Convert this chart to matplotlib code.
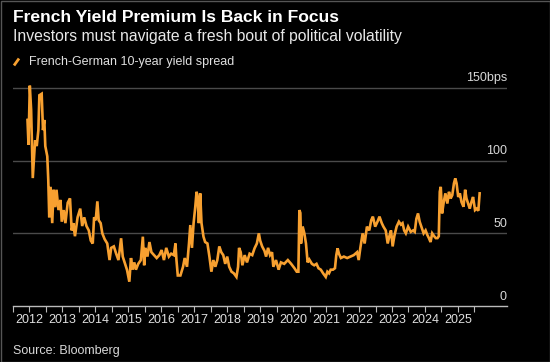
import matplotlib
matplotlib.use("Agg")
import matplotlib.pyplot as plt
from matplotlib.patches import Rectangle
from matplotlib.lines import Line2D
import numpy as np

# Decimal-year dates and spread values (bps)
dates = [2011.94, 2011.97, 2012.01, 2012.05, 2012.10, 2012.17, 2012.22, 2012.27, 2012.30, 2012.37,
         2012.41, 2012.45, 2012.48, 2012.54, 2012.57, 2012.60, 2012.64, 2012.69, 2012.73, 2012.78,
         2012.82, 2012.88, 2012.94, 2012.98, 2013.04, 2013.09, 2013.16, 2013.23, 2013.28, 2013.33,
         2013.38, 2013.46, 2013.54, 2013.60, 2013.66, 2013.73, 2013.80, 2013.86, 2013.92, 2013.96,
         2014.01, 2014.06, 2014.10, 2014.16, 2014.21, 2014.28, 2014.36, 2014.43, 2014.48, 2014.56,
         2014.63, 2014.70, 2014.78, 2014.83, 2014.90, 2014.96, 2015.03, 2015.08, 2015.13, 2015.18,
         2015.23, 2015.30, 2015.38, 2015.44, 2015.48, 2015.52, 2015.58, 2015.64, 2015.70, 2015.78,
         2015.86, 2015.94, 2016.01, 2016.08, 2016.15, 2016.23, 2016.30, 2016.38, 2016.43, 2016.46,
         2016.50, 2016.58, 2016.66, 2016.71, 2016.78, 2016.84, 2016.88, 2016.93, 2016.98, 2017.03,
         2017.07, 2017.10, 2017.14, 2017.18, 2017.22, 2017.28, 2017.33, 2017.40, 2017.46, 2017.52,
         2017.58, 2017.64, 2017.70, 2017.76, 2017.82, 2017.88, 2017.94, 2018.00, 2018.06, 2018.13,
         2018.20, 2018.28, 2018.33, 2018.36, 2018.41, 2018.46, 2018.53, 2018.60, 2018.68, 2018.76,
         2018.83, 2018.90, 2018.96, 2019.00, 2019.06, 2019.13, 2019.18, 2019.24, 2019.30, 2019.36,
         2019.40, 2019.48, 2019.56, 2019.63, 2019.73, 2019.84, 2019.94, 2020.04, 2020.11, 2020.16,
         2020.19, 2020.22, 2020.24, 2020.29, 2020.34, 2020.39, 2020.44, 2020.49, 2020.57, 2020.64,
         2020.71, 2020.77, 2020.84, 2020.91, 2020.99, 2021.04, 2021.09, 2021.14, 2021.21, 2021.27,
         2021.31, 2021.35, 2021.39, 2021.45, 2021.54, 2021.64, 2021.74, 2021.84, 2021.94, 2021.99,
         2022.04, 2022.11, 2022.17, 2022.24, 2022.31, 2022.37, 2022.42, 2022.49, 2022.56, 2022.62,
         2022.69, 2022.74, 2022.81, 2022.87, 2022.92, 2022.97, 2023.02, 2023.07, 2023.14, 2023.21,
         2023.27, 2023.32, 2023.37, 2023.42, 2023.49, 2023.57, 2023.64, 2023.69, 2023.74, 2023.79,
         2023.84, 2023.89, 2023.96, 2024.02, 2024.07, 2024.12, 2024.17, 2024.22, 2024.28, 2024.33,
         2024.38, 2024.42, 2024.45, 2024.48, 2024.52, 2024.57, 2024.62, 2024.68, 2024.73, 2024.78,
         2024.83, 2024.88, 2024.92, 2024.96, 2025.01, 2025.06, 2025.11, 2025.17, 2025.22, 2025.26,
         2025.31, 2025.36, 2025.41, 2025.46, 2025.52, 2025.57, 2025.62, 2025.66]

spread = [128, 111, 151.6, 135, 88, 114, 110, 121, 145, 146,
          121, 128, 110, 103, 86.7, 61, 82, 57, 80, 68,
          80, 66, 73, 58, 66, 57, 71, 74, 52, 57,
          48, 61, 67, 55, 61, 55, 52, 45, 43, 61,
          59, 72, 59, 57, 50, 46, 43, 31.6, 40, 41,
          36, 31.6, 46.6, 34, 29, 24.8, 16.7, 33, 25, 30,
          25, 29, 31.6, 47.7, 28, 40, 34, 44, 37, 35,
          33, 35, 38.5, 31.6, 40, 34, 36, 35, 43, 31.6,
          21, 21, 27, 33, 27, 43, 55.7, 40, 57, 68,
          78.6, 75, 57, 77.5, 57, 47.7, 44, 43, 34, 23.6,
          31.6, 27, 31.6, 41, 37, 35, 29, 34, 27, 23.6,
          22.5, 20, 27, 40, 37, 28, 35, 30, 36, 35,
          39.7, 43, 50, 45, 41, 38, 34, 40, 35, 37,
          27, 31.6, 25, 30, 29, 31.6, 29, 26, 23.6, 23.6,
          66, 64, 43, 54.6, 50, 43, 30, 32, 29, 28,
          29, 26, 25, 22.5, 20, 23.6, 22.5, 25, 25, 26,
          35, 39.7, 36, 33, 34, 33, 34, 35, 37, 31.6,
          40, 50, 43, 54.6, 52, 59, 61.5, 54.6, 58, 61.5,
          57, 54.6, 52, 43, 48, 52, 41, 48, 54.6, 58,
          56, 57, 52, 50, 54.6, 51, 52, 51, 60, 63.7,
          58, 54.6, 50, 52, 49, 46.7, 44, 50, 48, 46.7,
          46.7, 48, 78.6, 82, 63.7, 71.5, 77.5, 70.5, 78.6, 74,
          76.3, 84.4, 87.8, 84.4, 75, 77.5, 71.5, 68.3, 80, 74,
          70.5, 67, 71.5, 75, 66, 67, 65.5, 77.5]

year_ticks = list(range(2012, 2026))
y_ticks = [0, 50, 100, 150]
y_tick_labels = ["0", "50", "100", "150bps"]

title = "French Yield Premium Is Back in Focus"
subtitle = "Investors must navigate a fresh bout of political volatility"
legend_label = "French-German 10-year yield spread"
source = "Source: Bloomberg"

W, H = 550, 362
fig = plt.figure(figsize=(W / 100, H / 100), dpi=100, facecolor="black")
FONT = "Liberation Sans"
plt.rcParams["font.family"] = [FONT, "DejaVu Sans"]

ORANGE = "#F7A030"

ax = fig.add_axes([13 / W, 1 - 306 / H, (507 - 13) / W, (306 - 80.7) / H])
ax.set_facecolor("black")
ax.plot(dates, spread, color=ORANGE, lw=1.9, solid_joinstyle="miter", zorder=3)
ax.set_xlim(2011.556, 2026.49)
ax.set_ylim(0, 155)

for v in y_ticks[1:]:
    ax.axhline(v, color="#4a4a4a", lw=1.0, zorder=1)
for v, lab in zip(y_ticks, y_tick_labels):
    ax.annotate(lab, xy=(1, v), xycoords=("axes fraction", "data"),
                xytext=(0, 2.5), textcoords="offset points",
                ha="right", va="bottom", color="#d8d8d8", fontsize=9)

for s in ["top", "right", "left"]:
    ax.spines[s].set_visible(False)
ax.spines["bottom"].set_color("#bbbbbb")
ax.spines["bottom"].set_linewidth(1.0)
ax.set_yticks([])
ax.set_xticks(year_ticks)
ax.set_xticklabels([str(y) for y in year_ticks])
ax.set_xticks([y + 0.5 for y in range(2011, 2026)], minor=True)
ax.tick_params(axis="x", which="both", colors="#bbbbbb", direction="out", length=4, width=0.8,
               labelcolor="#e0e0e0", labelsize=9, pad=2)

fig.text(13 / W, 1 - 18 / H, title, color="white", fontsize=12.6, fontweight="bold",
         ha="left", va="center")
fig.text(13 / W, 1 - 37 / H, subtitle, color="#e8e8e8", fontsize=11.3,
         ha="left", va="center")
fig.add_artist(Line2D([14 / W, 19 / W], [1 - 65.5 / H, 1 - 58.5 / H], color=ORANGE, lw=2,
                      solid_capstyle="butt"))
fig.text(29 / W, 1 - 62 / H, legend_label, color="#e0e0e0", fontsize=9,
         ha="left", va="center")
fig.text(13 / W, 1 - 351 / H, source, color="#d8d8d8", fontsize=9,
         ha="left", va="center")

fig.add_artist(Rectangle((0.5 / W, 0.5 / H), 1 - 1 / W, 1 - 1 / H, transform=fig.transFigure,
                         fill=False, edgecolor="#555555", lw=1))

fig.savefig("out.png", dpi=100, facecolor="black")
